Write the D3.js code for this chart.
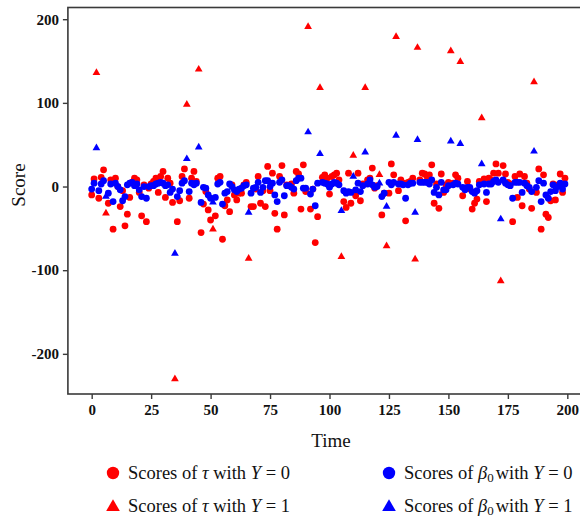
<!DOCTYPE html>
<html>
<head>
<meta charset="utf-8">
<script src="https://cdn.jsdelivr.net/npm/d3@7/dist/d3.min.js"></script>
<style>
  html, body { margin: 0; padding: 0; background: #ffffff; }
  svg { display: block; }
</style>
</head>
<body>
<svg id="chart" width="580" height="517"></svg>
<script>
// Time steps 0..199
const times = d3.range(200);

// Outcome per time step (1 = event), marks drawn as triangles
const eventTimes = [2, 6, 35, 40, 45, 51, 66, 91, 96, 105, 110, 115, 121, 124, 128, 136, 137, 151, 155, 164, 172, 186];

// Scores of tau, one per time step
const tauScores = [
  -10, 9, 137, -14, 11, 20, -31, -20, 8, -51,
  10, 0, -24, -5, -47, -33, -13, 5, 10, 8,
  -7, -35, 2, -42, -2, 3, 6, 10, -7, 12,
  18, -13, 10, 4, -19, -229, -42, -17, 12, 21,
  99, -14, 10, 18, 6, 141, -55, -21, -6, -28,
  -40, -50, -35, 10, 12, -63, -23, -16, -30, 2,
  -10, -16, -8, -8, 2, 5, -85, -24, -24, -3,
  12, -20, -5, -24, 24, -5, 16, -32, -51, 12,
  25, -34, 2, 1, 3, -8, 18, 15, -27, 26,
  -6, 192, -27, -3, -67, -36, 119, 11, 14, 10,
  -9, 12, 14, 16, 8, -83, -18, -25, 16, -20,
  38, -11, 16, -17, 3, 119, 8, 10, 22, -2,
  1, 15, -34, -8, -70, -8, 27, 14, 180, -5,
  8, 4, -41, 5, 6, 10, -86, 167, 8, 16,
  15, 12, 14, 26, -20, 3, -26, 15, -7, 2,
  5, 163, 4, 14, 10, 150, -11, -2, 6, -3,
  -27, -20, -15, 6, 83, 9, -18, 10, 8, 16,
  27, 16, -112, 25, 15, 5, 3, -42, 12, -13,
  15, -23, 12, 4, -3, -26, 126, -7, 21, -51,
  14, -33, -37, -17, 3, -16, 2, 15, -7, 10
];

// Scores of beta_0, one per time step
const betaScores = [
  -3, 4, 47, -5, 3, 7, -11, -8, 3, -18,
  4, 0, -4, -17, -12, 2, 4, 5, 1, 3,
  -4, -12, 0, -14, 0, 1, 1, 3, 4, 5,
  4, 1, 2, -7, -3, -79, -12, -5, 4, 7,
  34, -6, 4, 2, 4, 48, -19, -1, -2, -10,
  -14, -18, -13, 3, 5, -21, -8, -6, 3, 0,
  -4, -6, -3, -2, 1, 2, -30, -8, -2, -1,
  5, -7, -1, 7, 7, 0, 4, -10, -18, 5,
  8, -11, 1, 1, -1, -3, 7, 10, 10, -2,
  -2, 66, -9, -3, -23, 4, 40, 5, 4, 3,
  -1, 3, 5, 4, 2, -28, -5, -8, -6, -7,
  13, -4, 4, -6, 1, 42, 3, 8, 2, -1,
  0, 5, -12, -8, -23, 5, 2, 5, 62, 3,
  3, 2, -14, 2, 4, 4, -30, 57, 5, 5,
  5, 5, 3, 8, -7, -1, -10, 5, -4, -4,
  1, 55, 2, 4, 3, 52, -1, -4, -1, -1,
  -6, -8, -5, 2, 28, 3, -7, 3, 3, 6,
  8, 5, -38, 8, 4, 2, 1, -14, 5, 5,
  5, -7, 4, 1, -1, -6, 43, -1, 7, -18,
  4, -10, -14, -6, 2, -5, 0, 4, -3, 3
];

const xTicks = [0, 25, 50, 75, 100, 125, 150, 175, 200];
const yTicks = [-200, -100, 0, 100, 200];

const SERIF = "'Liberation Serif', 'Times New Roman', serif";
const plot = { left: 67.9, right: 591.1, top: 7.5, bottom: 394 };
const svg = d3.select("#chart");

const x = d3.scaleLinear().domain([-10, 210]).range([plot.left, plot.right]);
const y = d3.scaleLinear().domain([-248, 214]).range([plot.bottom, plot.top]);

const isEvent = new Set(eventTimes);
const points = times.map((t, i) => ({ t, tau: tauScores[i], beta: betaScores[i], ev: isEvent.has(t) }));

const RED = "#ff0000", BLUE = "#0000ff";
const circleR = 3.4;
const triSym = d3.symbol().type(d3.symbolTriangle).size(26);

svg.append("clipPath").attr("id", "clip")
  .append("rect").attr("x", plot.left).attr("y", plot.top)
  .attr("width", plot.right - plot.left).attr("height", plot.bottom - plot.top);

const marks = svg.append("g").attr("clip-path", "url(#clip)");

function drawSeries(key, color) {
  marks.append("g").selectAll("circle")
    .data(points.filter(d => !d.ev))
    .join("circle")
    .attr("cx", d => x(d.t))
    .attr("cy", d => y(d[key]))
    .attr("r", circleR)
    .attr("fill", color);
  marks.append("g").selectAll("path")
    .data(points.filter(d => d.ev))
    .join("path")
    .attr("d", triSym)
    .attr("transform", d => `translate(${x(d.t)},${y(d[key]) + 0.8})`)
    .attr("fill", color);
}
drawSeries("tau", RED);
drawSeries("beta", BLUE);

// Frame
svg.append("rect")
  .attr("x", plot.left).attr("y", plot.top)
  .attr("width", plot.right - plot.left).attr("height", plot.bottom - plot.top)
  .attr("fill", "none").attr("stroke", "#3a3a3a").attr("stroke-width", 1.6);

// Axes
const fmt = d => String(d);
const xAxis = svg.append("g")
  .attr("transform", `translate(0,${plot.bottom})`)
  .call(d3.axisBottom(x).tickValues(xTicks).tickFormat(fmt).tickSize(5).tickPadding(5));
const yAxis = svg.append("g")
  .attr("transform", `translate(${plot.left},0)`)
  .call(d3.axisLeft(y).tickValues(yTicks).tickFormat(fmt).tickSize(5).tickPadding(4));
[xAxis, yAxis].forEach(g => {
  g.attr("font-family", SERIF).attr("font-size", 15);
  g.select(".domain").remove();
  g.selectAll(".tick line").attr("stroke", "#3a3a3a").attr("stroke-width", 1.4);
  g.selectAll(".tick text")
    .attr("font-family", SERIF)
    .attr("font-weight", "bold")
    .attr("font-size", 15)
    .attr("fill", "#111");
});

// Axis titles
svg.append("text")
  .attr("x", 331).attr("y", 447)
  .attr("text-anchor", "middle")
  .attr("font-family", SERIF).attr("font-size", 19)
  .attr("fill", "#111").text("Time");
svg.append("text")
  .attr("transform", "translate(25,185) rotate(-90)")
  .attr("text-anchor", "middle")
  .attr("font-family", SERIF).attr("font-size", 19)
  .attr("fill", "#111").text("Score");

// Legend
const legendItems = [
  { sym: "circle", color: RED, sub: false, name: "τ", yv: "0", x: 113, y: 473 },
  { sym: "triangle", color: RED, sub: false, name: "τ", yv: "1", x: 113, y: 506 },
  { sym: "circle", color: BLUE, sub: true, name: "β", yv: "0", x: 389, y: 473 },
  { sym: "triangle", color: BLUE, sub: true, name: "β", yv: "1", x: 389, y: 506 }
];
const lg = svg.append("g").attr("font-family", SERIF).attr("font-size", 18.5).attr("fill", "#111");
legendItems.forEach(it => {
  if (it.sym === "circle") {
    lg.append("circle").attr("cx", it.x).attr("cy", it.y).attr("r", 6.2).attr("fill", it.color);
  } else {
    lg.append("path").attr("d", d3.symbol().type(d3.symbolTriangle).size(80)())
      .attr("transform", `translate(${it.x},${it.y + 1})`).attr("fill", it.color);
  }
  const t = lg.append("text").attr("x", it.x + 15).attr("y", it.y + 6);
  t.append("tspan").text("Scores of ");
  t.append("tspan").attr("font-style", "italic").text(it.name);
  if (it.sub) {
    t.append("tspan").attr("font-size", 13).attr("dy", 3).text("0");
    t.append("tspan").attr("dy", -3).attr("dx", 2).text("with ");
  } else {
    t.append("tspan").text(" with ");
  }
  t.append("tspan").attr("font-style", "italic").text("Y");
  t.append("tspan").text(" = " + it.yv);
});
</script>
</body>
</html>
